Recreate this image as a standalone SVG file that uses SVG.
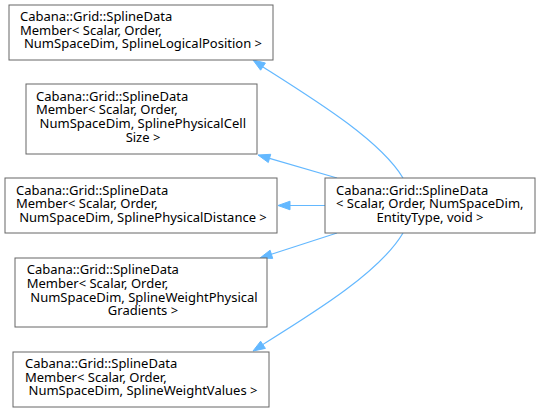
<svg xmlns="http://www.w3.org/2000/svg" width="540" height="412" viewBox="0 0 540 412">
<style>
.box{fill:#ffffff;stroke:#666666;stroke-width:1}
.t{font-family:"Noto Sans","Open Sans",sans-serif;font-size:13px;fill:#000000}
.m{text-anchor:middle}
.e{fill:none;stroke:#63b8ff;stroke-width:1.2}
.h{fill:#63b8ff;stroke:#63b8ff;stroke-width:1}
</style>
<rect width="540" height="412" fill="#ffffff"/>
<g id="edges">
<path class="e" d="M403,178 C380,140 315,100 263,67"/>
<polygon class="h" points="253,60 265.4,63 260.6,70.2"/>
<path class="e" d="M337,178 L269.5,158.4"/>
<polygon class="h" points="258,155 270.7,154.3 268.3,162.5"/>
<path class="e" d="M325,205.5 L290,205.5"/>
<polygon class="h" points="278,205.5 290,201.2 290,209.8"/>
<path class="e" d="M337,233 L271.4,254.3"/>
<polygon class="h" points="260,258 272.7,258.4 270.1,250.2"/>
<path class="e" d="M403,233 C380,272 315,312 263,344.4"/>
<polygon class="h" points="253,351 260.6,341.2 265.4,348.4"/>
</g>
<g id="n1">
<rect class="box" x="9" y="5" width="264" height="55"/>
<text class="t" x="20" y="21">Cabana::Grid::SplineData</text>
<text class="t" x="20" y="34.5">Member&lt; Scalar, Order,</text>
<text class="t m" x="143" y="48">NumSpaceDim, SplineLogicalPosition &gt;</text>
</g>
<g id="n2">
<rect class="box" x="26" y="84" width="231" height="70"/>
<text class="t" x="36" y="100.5">Cabana::Grid::SplineData</text>
<text class="t" x="36" y="114">Member&lt; Scalar, Order,</text>
<text class="t" x="39.6" y="127.5">NumSpaceDim, SplinePhysicalCell</text>
<text class="t m" x="143" y="141.5">Size &gt;</text>
</g>
<g id="n3">
<rect class="box" x="5" y="178" width="272" height="55"/>
<text class="t" x="16" y="194.5">Cabana::Grid::SplineData</text>
<text class="t" x="16" y="208">Member&lt; Scalar, Order,</text>
<text class="t m" x="143" y="221.5">NumSpaceDim, SplinePhysicalDistance &gt;</text>
</g>
<g id="n4">
<rect class="box" x="15" y="258" width="252" height="69"/>
<text class="t" x="26.7" y="274">Cabana::Grid::SplineData</text>
<text class="t" x="26.7" y="287.5">Member&lt; Scalar, Order,</text>
<text class="t" x="30.3" y="301.5">NumSpaceDim, SplineWeightPhysical</text>
<text class="t m" x="143" y="315">Gradients &gt;</text>
</g>
<g id="n5">
<rect class="box" x="13" y="352" width="256" height="55"/>
<text class="t" x="25" y="368">Cabana::Grid::SplineData</text>
<text class="t" x="25" y="381.5">Member&lt; Scalar, Order,</text>
<text class="t m" x="143" y="395">NumSpaceDim, SplineWeightValues &gt;</text>
</g>
<g id="n0">
<rect class="box" x="325" y="178" width="210" height="55"/>
<text class="t" x="336" y="194.5">Cabana::Grid::SplineData</text>
<text class="t" x="336" y="208">&lt; Scalar, Order, NumSpaceDim,</text>
<text class="t m" x="430" y="221.5">EntityType, void &gt;</text>
</g>
</svg>
